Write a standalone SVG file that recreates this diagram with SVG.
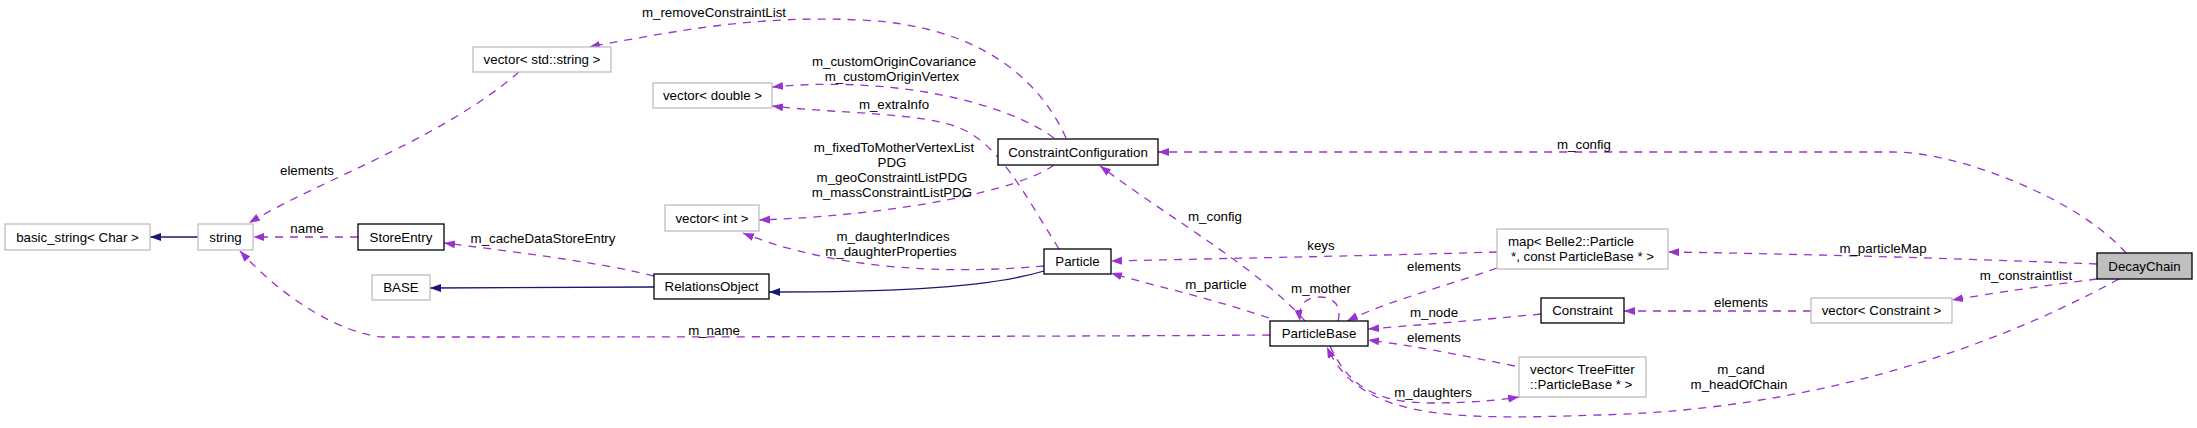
<svg xmlns="http://www.w3.org/2000/svg" width="2197" height="428" viewBox="0 0 2197 428">
<defs>
<style>
text{font-family:"Liberation Sans",Arial,sans-serif;font-size:13.3px;fill:#000}
.n text{text-anchor:middle}
.l{text-anchor:middle}
.g{fill:#fff;stroke:#bfbfbf;stroke-width:1.3}
.b{fill:#fff;stroke:#000;stroke-width:1.3}
.c path.u{fill:none;stroke:#9a32cd;stroke-width:1.3;stroke-dasharray:8,7;marker-end:url(#ap)}
.c path.i{fill:none;stroke:#191970;stroke-width:1.3;marker-end:url(#an)}
</style>
<marker id="ap" markerUnits="userSpaceOnUse" markerWidth="12" markerHeight="9" refX="11" refY="4" orient="auto"><path d="M0,0 L11,4 L0,8 z" fill="#9a32cd"/></marker>
<marker id="an" markerUnits="userSpaceOnUse" markerWidth="12" markerHeight="9" refX="11" refY="4" orient="auto"><path d="M0,0 L11,4 L0,8 z" fill="#191970"/></marker>
</defs>
<rect width="2197" height="428" fill="#fff"/>
<g class="c" id="connectors">
<path class="i" d="M198,237 L150,237"/>
<path class="u" d="M358,237 L253,237"/>
<text class="l" x="307" y="233">name</text>
<path class="u" d="M519,72 C440,140 320,180 249,223"/>
<text class="l" x="307" y="175">elements</text>
<path class="u" d="M1270,335 C1000,337 500,337 383,337 C340,333 285,300 240,251"/>
<text class="l" x="714" y="335">m_name</text>
<path class="u" d="M654,276 C600,262 500,250 444,243"/>
<text class="l" x="543" y="242.5">m_cacheDataStoreEntry</text>
<path class="i" d="M654,287 L430,288"/>
<path class="i" d="M1044,271 C980,290 870,292 769,292"/>
<path class="u" d="M1044,266 C1000,270 860,280 743,233"/>
<text class="l" x="893" y="241">m_daughterIndices</text>
<text class="l" x="891" y="256">m_daughterProperties</text>
<path class="u" d="M1059,249 C1025,195 1000,145 960,128 C920,112 840,114 772,106"/>
<text class="l" x="894" y="109">m_extraInfo</text>
<path class="u" d="M1054,138 C1010,105 900,75 772,87"/>
<text class="l" x="894" y="65.5">m_customOriginCovariance</text>
<text class="l" x="892" y="80.5">m_customOriginVertex</text>
<path class="u" d="M1066,138 C1040,80 980,25 860,20 C760,15 680,30 589,47"/>
<text class="l" x="714" y="16.5">m_removeConstraintList</text>
<path class="u" d="M1054,165 C1020,190 900,215 759,220"/>
<text class="l" x="894" y="151.5">m_fixedToMotherVertexList</text>
<text class="l" x="892" y="166.5">PDG</text>
<text class="l" x="892" y="181.5">m_geoConstraintListPDG</text>
<text class="l" x="892" y="196.5">m_massConstraintListPDG</text>
<path class="u" d="M2126,253 C2080,200 1960,152 1893,152 L1158,152"/>
<text class="l" x="1584" y="148.5">m_config</text>
<path class="u" d="M1305,321 C1260,270 1180,225 1100,166"/>
<text class="l" x="1215" y="220.5">m_config</text>
<path class="u" d="M1269,318 C1200,295 1150,285 1111,273"/>
<text class="l" x="1216" y="288.5">m_particle</text>
<path class="u" d="M1497,252 C1400,255 1250,258 1111,261"/>
<text class="l" x="1321" y="249.5">keys</text>
<path class="u" d="M1497,268 C1450,285 1390,300 1347,321"/>
<text class="l" x="1434" y="270.5">elements</text>
<path class="u" d="M1338,321 C1342,308 1335,297 1320,297 C1305,297 1298,305 1300,321"/>
<text class="l" x="1321" y="292.5">m_mother</text>
<path class="u" d="M1541,314 C1480,320 1420,325 1368,329"/>
<text class="l" x="1434" y="316.5">m_node</text>
<path class="u" d="M1515,366 C1460,355 1410,345 1368,340"/>
<text class="l" x="1434" y="341.5">elements</text>
<path class="u" d="M1330,346 C1350,390 1380,402 1430,403 C1470,403 1500,400 1519,397"/>
<text class="l" x="1433" y="396.5">m_daughters</text>
<path class="u" d="M2119,279 C1980,355 1800,410 1600,415 C1450,420 1360,420 1327,347"/>
<text class="l" x="1741" y="373.5">m_cand</text>
<text class="l" x="1739" y="388.5">m_headOfChain</text>
<path class="u" d="M2097,264 C1950,258 1800,254 1668,252"/>
<text class="l" x="1883" y="252.5">m_particleMap</text>
<path class="u" d="M2097,279 C2050,285 2000,292 1952,300"/>
<text class="l" x="2026" y="279.5">m_constraintlist</text>
<path class="u" d="M1811,311 L1624,311"/>
<text class="l" x="1741" y="306.5">elements</text>
</g>
<g class="n" id="basic_string"><rect class="g" x="5" y="224" width="145" height="26"/><text x="77.5" y="241.5">basic_string&lt; Char &gt;</text></g>
<g class="n" id="string"><rect class="g" x="198" y="224" width="55" height="26"/><text x="225.5" y="241.5">string</text></g>
<g class="n" id="StoreEntry"><rect class="b" x="358" y="224" width="86" height="26"/><text x="401" y="241.5">StoreEntry</text></g>
<g class="n" id="BASE"><rect class="g" x="372" y="275" width="58" height="25"/><text x="401" y="292">BASE</text></g>
<g class="n" id="RelationsObject"><rect class="b" x="654" y="274" width="115" height="25"/><text x="711.5" y="291">RelationsObject</text></g>
<g class="n" id="vector_string"><rect class="g" x="473" y="47" width="138" height="25"/><text x="542" y="64">vector&lt; std::string &gt;</text></g>
<g class="n" id="vector_double"><rect class="g" x="653" y="83" width="119" height="25"/><text x="712.5" y="100">vector&lt; double &gt;</text></g>
<g class="n" id="vector_int"><rect class="g" x="665" y="205" width="94" height="26"/><text x="712" y="222.5">vector&lt; int &gt;</text></g>
<g class="n" id="ConstraintConfiguration"><rect class="b" x="998" y="139" width="160" height="26"/><text x="1078" y="156.5">ConstraintConfiguration</text></g>
<g class="n" id="Particle"><rect class="b" x="1044" y="249" width="67" height="25"/><text x="1077.5" y="266">Particle</text></g>
<g class="n" id="ParticleBase"><rect class="b" x="1270" y="321" width="98" height="25"/><text x="1319" y="338">ParticleBase</text></g>
<g id="map"><rect class="g" x="1497" y="229" width="171" height="40"/><text x="1508" y="245.5">map&lt; Belle2::Particle</text><text x="1511" y="260.5"> *, const ParticleBase * &gt;</text></g>
<g id="vector_TreeFitter"><rect class="g" x="1519" y="357" width="127" height="40"/><text x="1530" y="373.5">vector&lt; TreeFitter</text><text x="1530" y="388.5">::ParticleBase * &gt;</text></g>
<g class="n" id="Constraint"><rect class="b" x="1541" y="298" width="83" height="25"/><text x="1582.5" y="315">Constraint</text></g>
<g class="n" id="vector_Constraint"><rect class="g" x="1811" y="298" width="141" height="25"/><text x="1881.5" y="315">vector&lt; Constraint &gt;</text></g>
<g class="n" id="DecayChain"><rect x="2097" y="253" width="95" height="26" fill="#bfbfbf" stroke="#000" stroke-width="1.3"/><text x="2144.5" y="270.5">DecayChain</text></g>
</svg>
